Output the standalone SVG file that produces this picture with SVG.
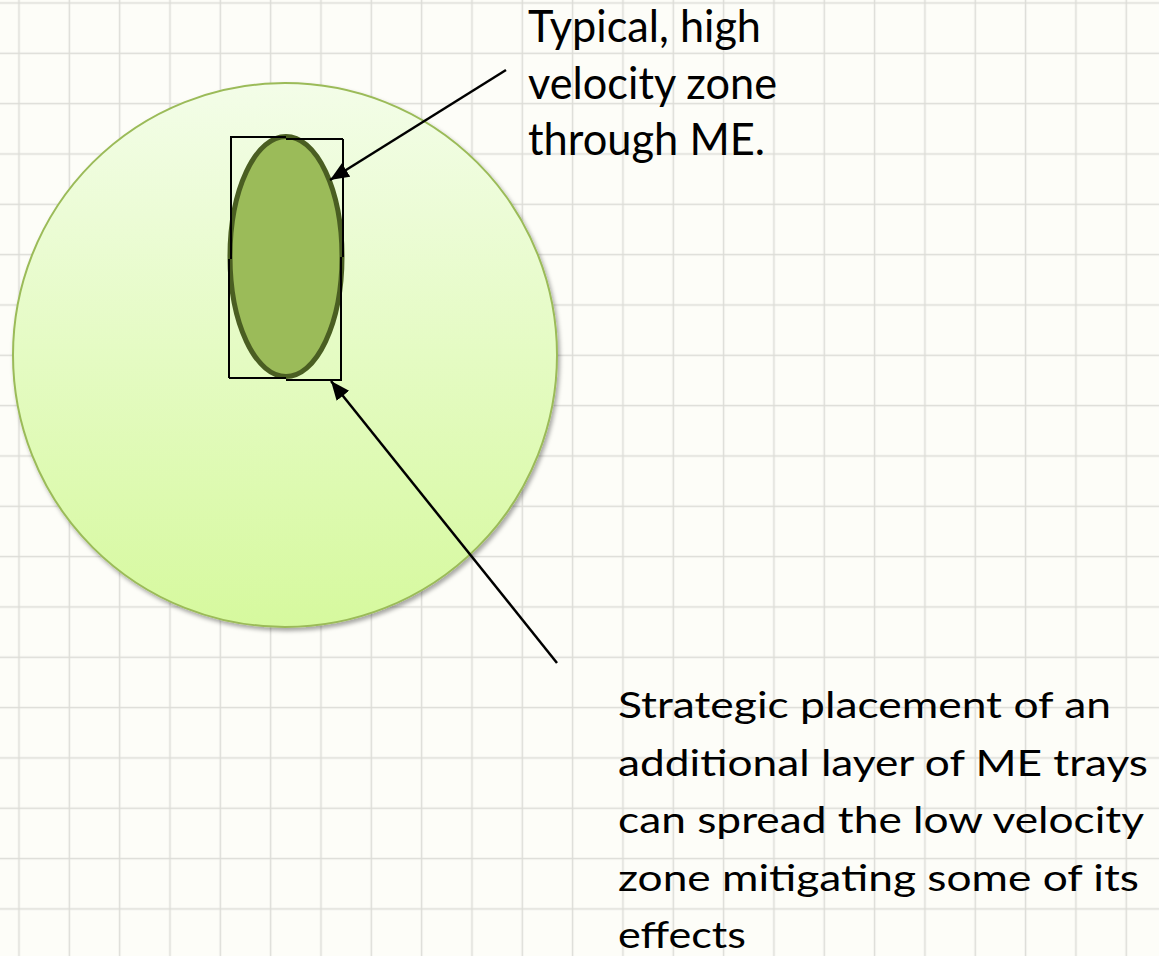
<svg xmlns="http://www.w3.org/2000/svg" width="1159" height="956" viewBox="0 0 1159 956">
  <style>
    .grid-line { stroke: #dcdcd7; stroke-width: 1.5; fill: none; }
    .label { font-family: Lato, "Open Sans", "Liberation Sans", sans-serif; fill: #000000; }
    .l1 { font-size: 44px; }
    .l2 { font-size: 37px; }
    .box { stroke: #000000; stroke-width: 2; fill: none; }
    .conn { stroke: #000000; stroke-width: 2.5; fill: none; marker-end: url(#arrow); }
  </style>
  <defs>
    <pattern id="grid" patternUnits="userSpaceOnUse" x="-6.17" y="-22.17" width="50.33" height="50.33">
      <path class="grid-line" d="M25.165,0 V50.33 M0,25.165 H50.33"/>
    </pattern>
    <linearGradient id="circleFill" x1="0" y1="0" x2="0" y2="1">
      <stop offset="0" stop-color="#f3fde8"/>
      <stop offset="1" stop-color="#d6f99e"/>
    </linearGradient>
    <filter id="shadow" x="-10%" y="-10%" width="120%" height="120%">
      <feDropShadow dx="2" dy="3" stdDeviation="2" flood-color="#000000" flood-opacity="0.35"/>
    </filter>
    <marker id="arrow" markerUnits="userSpaceOnUse" markerWidth="22" markerHeight="18" refX="19" refY="8" orient="auto">
      <path d="M0,0 L19,8 L0,16 Z" fill="#000000"/>
    </marker>
  </defs>

  <g id="background">
    <rect x="0" y="0" width="1159" height="956" fill="#fdfdf8"/>
    <rect x="0" y="0" width="1159" height="956" fill="url(#grid)"/>
  </g>

  <g id="outer-circle">
    <circle cx="285" cy="355" r="272" fill="url(#circleFill)" stroke="#9bbb59" stroke-width="2" filter="url(#shadow)"/>
  </g>

  <g id="velocity-zone">
    <ellipse cx="286" cy="256.5" rx="56" ry="120" fill="#9bbb59" stroke="#4a5e22" stroke-width="5"/>
  </g>

  <g id="bounding-box">
    <path class="box" d="M230,137 H286 M286,139 H343 M231,137 V259 M229,259 V378 M343,139 V257 M341,257 V381 M229,378 H286 M286,380 H341"/>
  </g>

  <g id="label-typical">
    <text class="label l1" x="528" y="42" textLength="233" lengthAdjust="spacingAndGlyphs">Typical, high</text>
    <text class="label l1" x="528" y="98.5" textLength="249" lengthAdjust="spacingAndGlyphs">velocity zone</text>
    <text class="label l1" x="528" y="155" textLength="237" lengthAdjust="spacingAndGlyphs">through ME.</text>
  </g>

  <g id="label-strategic">
    <text class="label l2" x="618" y="718" textLength="493" lengthAdjust="spacingAndGlyphs">Strategic placement of an</text>
    <text class="label l2" x="618" y="775.5" textLength="530" lengthAdjust="spacingAndGlyphs">additional layer of ME trays</text>
    <text class="label l2" x="618" y="833" textLength="526" lengthAdjust="spacingAndGlyphs">can spread the low velocity</text>
    <text class="label l2" x="618" y="890.5" textLength="521" lengthAdjust="spacingAndGlyphs">zone mitigating some of its</text>
    <text class="label l2" x="618" y="948" textLength="128" lengthAdjust="spacingAndGlyphs">effects</text>
  </g>

  <g id="connectors">
    <line class="conn" x1="506" y1="70" x2="330" y2="180"/>
    <line class="conn" x1="557" y1="663" x2="331" y2="381"/>
  </g>
</svg>
